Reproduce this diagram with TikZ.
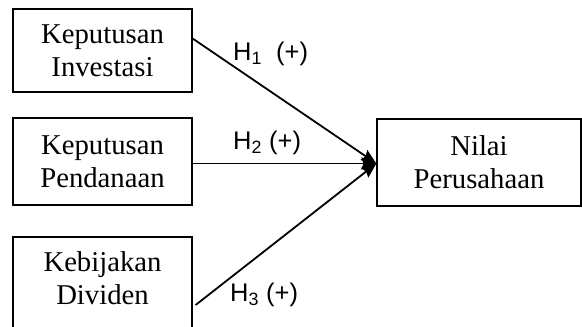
\documentclass[tikz,border=0pt]{standalone}
\usepackage{fontspec}
\setmainfont{Liberation Serif}
\newfontfamily\arialf{Liberation Sans}
\usetikzlibrary{arrows.meta}
\begin{document}
\begin{tikzpicture}[x=1pt,y=1pt,
  boxstyle/.style={draw, line width=1.2pt, minimum width=179pt, inner sep=0pt, align=center,
     font=\fontsize{28.7}{33}\selectfont},
  conn/.style={line width=1.8pt, -{Stealth[length=15pt,width=12pt,inset=2pt]}},
  hlabel/.style={font=\arialf\fontsize{25.5}{28}\selectfont, inner sep=0pt, anchor=base west}]
\useasboundingbox (0,0) rectangle (582,327);
\node[boxstyle, minimum height=83pt] (b1) at (102.5,276.5) {Keputusan\\Investasi};
\node[boxstyle, minimum height=87pt] (b2) at (102.5,165.5) {Keputusan\\Pendanaan};
\node[boxstyle, minimum height=100pt, text height=0pt] (b3) at (102.5,40) {};
\node[font=\fontsize{28.7}{33}\selectfont, align=center, inner sep=0pt] (t3) at (102.5,49) {Kebijakan\\Dividen};
\node[draw, line width=1.2pt, minimum width=204pt, minimum height=87pt, inner sep=0pt, align=center,
     font=\fontsize{28.7}{33}\selectfont] (n) at (479,164.5) {Nilai\\Perusahaan};
\draw[conn] ([yshift=12pt]b1.east) -- ([yshift=-1pt]n.west);
\draw[conn] ([yshift=-2pt]b2.east) -- ([yshift=-1pt]n.west);
\draw[conn] ([xshift=3pt,yshift=-18pt]b3.east) -- ([yshift=-1pt]n.west);
\node[hlabel] (h1) at (233,266) {H\textsubscript{1}\ \ (+)};
\node[hlabel] (h2) at (233,177) {H\textsubscript{2} (+)};
\node[hlabel] (h3) at (230,25) {H\textsubscript{3} (+)};
\end{tikzpicture}
\end{document}
